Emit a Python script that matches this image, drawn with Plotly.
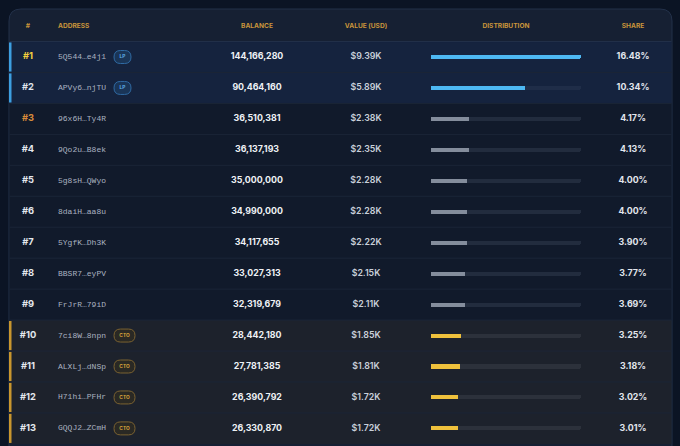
import plotly.graph_objects as go

# ---------------- data ----------------
ranks = ["#1", "#2", "#3", "#4", "#5", "#6", "#7", "#8", "#9", "#10", "#11", "#12", "#13"]
addresses = ["5Q544…e4j1", "APVy6…njTU", "96x6H…Ty4R", "9Qo2u…B8ek", "5g8sH…QWyo",
             "8daiH…aa8u", "5YgfK…Dh3K", "BBSR7…eyPV", "FrJrR…79iD", "7ci8W…8npn",
             "ALXLj…dNSp", "H71hi…PFHr", "GQQJ2…ZCmH"]
balances = [144166280, 90464160, 36510381, 36137193, 35000000, 34990000, 34117655,
            33027313, 32319679, 28442180, 27781385, 26390792, 26330870]
values_usd = ["$9.39K", "$5.89K", "$2.38K", "$2.35K", "$2.28K", "$2.28K", "$2.22K",
              "$2.15K", "$2.11K", "$1.85K", "$1.81K", "$1.72K", "$1.72K"]
shares = [16.48, 10.34, 4.17, 4.13, 4.00, 4.00, 3.90, 3.77, 3.69, 3.25, 3.18, 3.02, 3.01]
tags = ["LP", "LP", "", "", "", "", "", "", "", "CTO", "CTO", "CTO", "CTO"]
headers = ["#", "ADDRESS", "BALANCE", "VALUE (USD)", "DISTRIBUTION", "SHARE"]

# ---------------- styles ----------------
W, H = 680, 446
PITCH = 30.95
ROW1_PX = 57.0
BG = "#0b1424"
CARD = "#162033"
ROW_BG = {"LP": "#15233e", "": "#111a2b", "CTO": "#1d222c"}
ACCENT = {"LP": "#3d9fe0", "CTO": "#c8962e"}
BAR = {"LP": "#4db8f3", "": "#848d9c", "CTO": "#efc13c"}
TRACK = {"LP": "#1f2d48", "": "#222c3e", "CTO": "#2c313b"}
BADGE_FILL = {"LP": "#1a3557", "CTO": "#2a2924"}
BADGE_LINE = {"LP": "#2f6aa3", "CTO": "#7b6230"}
BADGE_TXT = {"LP": "#5eb0ea", "CTO": "#d9a63a"}
BADGE_W = {"LP": 17, "CTO": 21}
RANK_COL = {"#1": "#f3cf3d", "#2": "#dfe4ec", "#3": "#d88a3a"}
HEAD_COL = "#c9953b"

CARD_L, CARD_R, CARD_T = 9, 672, 9
COL_RANK, COL_ADDR, COL_BAL, COL_VAL, COL_SHARE = 28, 58, 257, 366, 633
DIST_L, DIST_R = 431, 581
BADGE_L = 114

rows = list(range(1, len(ranks) + 1))
y_top = (0 - ROW1_PX) / PITCH + 1
y_bot = (H - ROW1_PX) / PITCH + 1

fig = go.Figure()

# distribution tracks and bars (own x axis on the distribution column)
maxs = max(shares)
fig.add_trace(go.Bar(
    x=[maxs] * len(rows), y=rows, orientation="h", xaxis="x2", yaxis="y",
    width=0.13, marker=dict(color=[TRACK[t] for t in tags], cornerradius=2, line_width=0),
    hoverinfo="skip", showlegend=False))
fig.add_trace(go.Bar(
    x=shares, y=rows, orientation="h", xaxis="x2", yaxis="y",
    width=0.13, marker=dict(color=[BAR[t] for t in tags], cornerradius=2, line_width=0),
    hoverinfo="skip", showlegend=False))

num_font = "Inter"

def text_trace(x, y, txt, size, color, weight=700, family=num_font, pos="middle center"):
    return go.Scatter(x=x, y=y, text=txt, mode="text", textposition=pos,
                      textfont=dict(family=family, size=size, color=color, weight=weight),
                      hoverinfo="skip", showlegend=False, cliponaxis=False)

# header
head_x = [COL_RANK, COL_ADDR, COL_BAL, COL_VAL, (DIST_L + DIST_R) / 2, COL_SHARE]
head_pos = ["middle center", "middle right", "middle center", "middle center", "middle center", "middle center"]
for hx, ht, hp in zip(head_x, headers, head_pos):
    fig.add_trace(text_trace([hx], [0], [ht], 6.6, HEAD_COL, pos=hp))

# rows
fig.add_trace(text_trace([COL_RANK] * len(rows), rows, ranks, 9.3,
                         [RANK_COL.get(r, "#e4e8ee") for r in ranks]))
fig.add_trace(text_trace([COL_ADDR] * len(rows), rows, addresses, 8, "#aab2c0",
                         weight=400, family="Liberation Mono", pos="middle right"))
fig.add_trace(text_trace([COL_BAL] * len(rows), rows, [f"{b:,}" for b in balances], 8.8, "#eef1f5"))
fig.add_trace(text_trace([COL_VAL] * len(rows), rows, values_usd, 8.8, "#c9d0da", weight=600))
fig.add_trace(text_trace([COL_SHARE] * len(rows), rows, [f"{s:.2f}%" for s in shares], 8.8, "#e2e6ed"))

# badges text
b_rows = [r for r, t in zip(rows, tags) if t]
b_tags = [t for t in tags if t]
fig.add_trace(text_trace([BADGE_L + BADGE_W[t] / 2 for t in b_tags], b_rows, b_tags, 4.8,
                         [BADGE_TXT[t] for t in b_tags]))

shapes = []
# card
r = 12
l, rr, t, b = CARD_L / W, CARD_R / W, 1 - CARD_T / H, -0.05
rx, ry = r / W, r / H
card_path = (f"M {l},{b} L {l},{t-ry} Q {l},{t} {l+rx},{t} L {rr-rx},{t} "
             f"Q {rr},{t} {rr},{t-ry} L {rr},{b} Z")
shapes.append(dict(type="path", xref="paper", yref="paper", path=card_path,
                   fillcolor=CARD, line=dict(color="#223049", width=1), layer="below"))
# row backgrounds
for rw, tg in zip(rows, tags):
    shapes.append(dict(type="rect", xref="x", yref="y", x0=CARD_L + 0.5, x1=CARD_R - 0.5,
                       y0=rw - 0.5, y1=rw + 0.5, fillcolor=ROW_BG[tg], line_width=0, layer="below"))
# separators
for rw in [0] + rows[:-1]:
    shapes.append(dict(type="line", xref="x", yref="y", x0=CARD_L + 0.5, x1=CARD_R - 0.5,
                       y0=rw + 0.5, y1=rw + 0.5,
                       line=dict(color="#223049" if rw == 0 else "#1b2537", width=1), layer="below"))
# accents
for rw, tg in zip(rows, tags):
    if tg in ACCENT:
        shapes.append(dict(type="rect", xref="x", yref="y", x0=CARD_L, x1=CARD_L + 2.5,
                           y0=rw - 0.47, y1=rw + 0.47, fillcolor=ACCENT[tg], line_width=0, layer="below"))
# badges
for rw, tg in zip(rows, tags):
    if tg:
        w = BADGE_W[tg]
        hw, hh = w / 2, 6.5
        k = hw - hh
        p = (f"M {-k},{-hh} L {k},{-hh} Q {hw},{-hh} {hw},0 Q {hw},{hh} {k},{hh} "
             f"L {-k},{hh} Q {-hw},{hh} {-hw},0 Q {-hw},{-hh} {-k},{-hh} Z")
        shapes.append(dict(type="path", xref="x", yref="y", xsizemode="pixel", ysizemode="pixel",
                           xanchor=BADGE_L + hw, yanchor=rw, path=p,
                           fillcolor=BADGE_FILL[tg], line=dict(color=BADGE_LINE[tg], width=1),
                           layer="below"))

fig.update_layout(
    width=W, height=H, margin=dict(l=0, r=0, t=0, b=0),
    paper_bgcolor=BG, plot_bgcolor="rgba(0,0,0,0)",
    barmode="overlay", bargap=0,
    xaxis=dict(range=[0, W], domain=[0, 1], visible=False, fixedrange=True),
    xaxis2=dict(range=[0, maxs], domain=[DIST_L / W, DIST_R / W],
                anchor="y", visible=False, fixedrange=True),
    yaxis=dict(range=[y_bot, y_top], visible=False, fixedrange=True),
    shapes=shapes,
    showlegend=False,
)

fig.write_html("out.html", config={"displayModeBar": False},
               post_script="document.body.style.margin='0';document.body.style.background='" + BG + "';")
